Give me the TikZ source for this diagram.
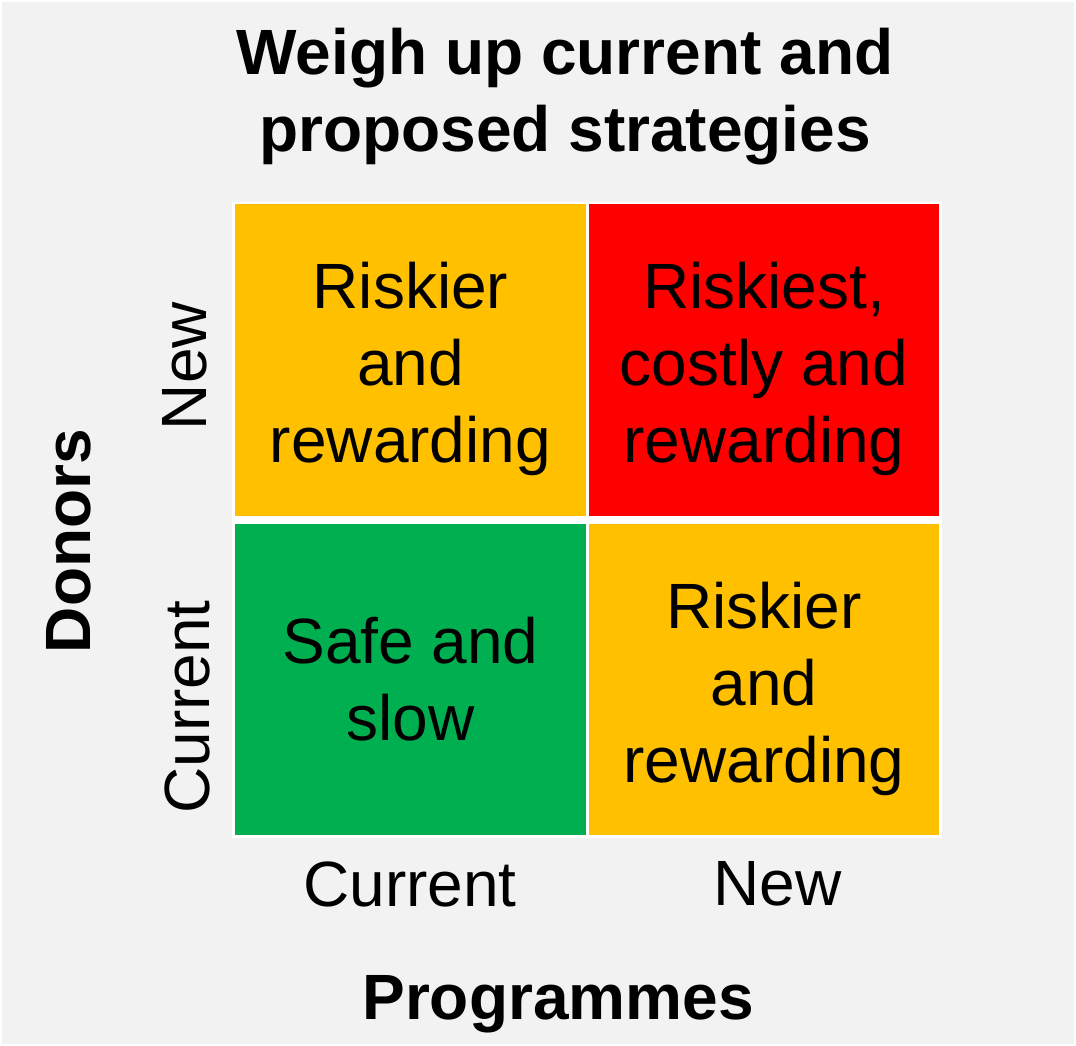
\documentclass[tikz,border=0pt]{standalone}
\usepackage{fontspec}
\setmainfont{Liberation Sans}
\definecolor{amber}{HTML}{FFC000}
\definecolor{riskred}{HTML}{FF0000}
\definecolor{safegreen}{HTML}{00B050}
\definecolor{canvas}{HTML}{F2F2F2}
\begin{document}
\begin{tikzpicture}[x=1pt,y=-1pt,
  cell/.style={rectangle, inner sep=0pt, draw=none},
  celltext/.style={inner sep=0pt, align=center, font=\fontsize{64}{77}\selectfont},
  axislabel/.style={inner sep=0pt, font=\fontsize{64}{77}\selectfont},
  axistitle/.style={inner sep=0pt, align=center, font=\fontsize{64}{77}\selectfont\bfseries}]
% page with thin white frame
\useasboundingbox (0,0) rectangle (1076,1046);
\fill[white] (0,0) rectangle (1076,1046);
\fill[canvas] (2,2) rectangle (1074,1044);

% title
\node[axistitle] (title) at (565,97) {Weigh up current and\\proposed strategies};

% white backing of the grid
\fill[white] (232,202) rectangle (942,838);

% the four cells
\node[cell, fill=amber, minimum width=351pt, minimum height=312pt] (tl) at (410.5,360) {};
\node[cell, fill=riskred, minimum width=350pt, minimum height=312pt] (tr) at (764,360) {};
\node[cell, fill=safegreen, minimum width=351pt, minimum height=311pt] (bl) at (410.5,679.5) {};
\node[cell, fill=amber, minimum width=350pt, minimum height=311pt] (br) at (764,679.5) {};

\node[celltext] (tltext) at ([yshift=-9pt]tl.center) {Riskier\\and\\rewarding};
\node[celltext] (trtext) at ([yshift=-9pt]tr.center) {Riskiest,\\costly and\\rewarding};
\node[celltext] (bltext) at (bl.center) {Safe and\\slow};
\node[celltext] (brtext) at ([yshift=-9pt]br.center) {Riskier\\and\\rewarding};

% axis: donors (vertical)
\node[axistitle, rotate=90] (donors) at (69,541) {Donors};
\node[axislabel, rotate=90] (donorsnew) at (185,366) {New};
\node[axislabel, rotate=90] (donorscur) at (187,707) {Current};

% axis: programmes (horizontal)
\node[axislabel] (progcur) at (410,884) {Current};
\node[axislabel] (prognew) at (777.5,884) {New};
\node[axistitle] (programmes) at (558,1004) {Programmes};
\end{tikzpicture}
\end{document}
